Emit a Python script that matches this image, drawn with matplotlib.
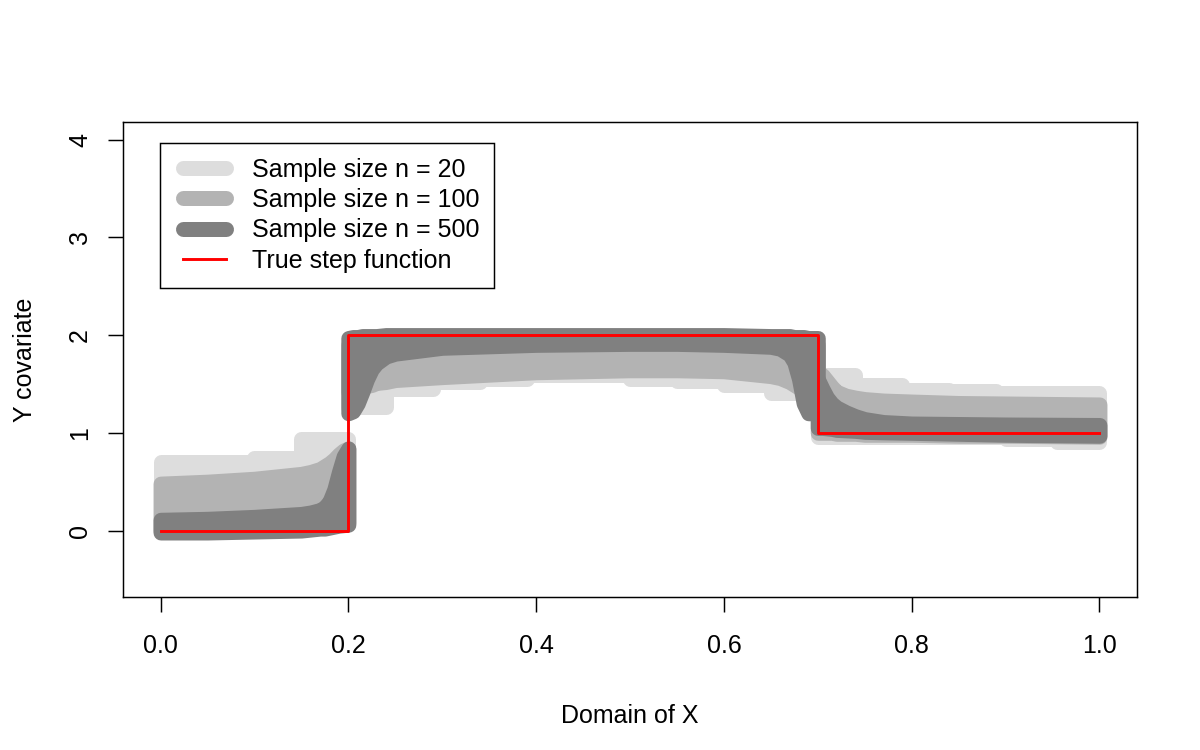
import matplotlib
matplotlib.use('Agg')
import matplotlib.pyplot as plt
from matplotlib.lines import Line2D
from matplotlib.legend_handler import HandlerLine2D

plt.rcParams['font.family'] = ['Liberation Sans', 'DejaVu Sans']

# true step function
true_x = [0.0, 0.2, 0.7, 1.0]
true_y = [0.0, 2.0, 1.0, 1.0]

# smooth pieces (n = 100 and n = 500): x grids of the three pieces
x_left = [0.0, 0.05, 0.10, 0.15, 0.16, 0.17, 0.175, 0.18, 0.185, 0.19, 0.195, 0.2]
x_mid = [0.2, 0.205, 0.21, 0.215, 0.22, 0.225, 0.23, 0.24, 0.25, 0.3, 0.4,
         0.5, 0.55, 0.6, 0.65, 0.66, 0.67, 0.675, 0.68, 0.685, 0.69, 0.7]
x_right = [0.7, 0.705, 0.71, 0.715, 0.72, 0.73, 0.74, 0.75, 0.77, 0.8, 0.85, 0.9, 1.0]

# n = 500
n500_left_lo = [-0.02, -0.02, -0.01, 0.0, 0.01, 0.02, 0.02, 0.03, 0.04, 0.05, 0.055, 0.06]
n500_left_hi = [0.11, 0.12, 0.14, 0.17, 0.185, 0.21, 0.24, 0.3, 0.42, 0.6, 0.76, 0.84]
n500_mid_lo = [1.2, 1.22, 1.3, 1.42, 1.55, 1.65, 1.71, 1.78, 1.81, 1.87, 1.90,
               1.91, 1.91, 1.90, 1.88, 1.86, 1.80, 1.72, 1.55, 1.30, 1.20, 1.20]
n500_mid_hi = [1.97, 1.98, 1.98, 1.99, 1.99, 1.99, 1.99, 2.0, 2.0, 2.0, 2.0,
               2.0, 2.0, 2.0, 1.99, 1.99, 1.99, 1.98, 1.98, 1.98, 1.97, 1.97]
n500_right_lo = [1.05, 1.05, 1.045, 1.04, 1.03, 1.025, 1.02, 1.01, 1.005, 1.0, 0.99, 0.98, 0.97]
n500_right_hi = [1.55, 1.45, 1.36, 1.30, 1.26, 1.21, 1.17, 1.14, 1.11, 1.095, 1.09, 1.085, 1.08]

# n = 100
n100_left_lo = [0.0, 0.0, 0.01, 0.02, 0.02, 0.03, 0.03, 0.04, 0.05, 0.06, 0.07, 0.08]
n100_left_hi = [0.48, 0.50, 0.53, 0.58, 0.60, 0.63, 0.66, 0.69, 0.73, 0.78, 0.82, 0.84]
n100_mid_lo = [1.42, 1.43, 1.45, 1.47, 1.48, 1.49, 1.51, 1.52, 1.54, 1.57, 1.62,
               1.64, 1.64, 1.63, 1.58, 1.56, 1.52, 1.49, 1.46, 1.42, 1.39, 1.36]
n100_mid_hi = [1.9, 1.9, 1.91, 1.91, 1.92, 1.92, 1.93, 1.93, 1.94, 1.95, 1.95,
               1.95, 1.95, 1.95, 1.94, 1.94, 1.93, 1.93, 1.92, 1.92, 1.91, 1.9]
n100_right_lo = [1.0, 1.0, 1.0, 1.0, 0.99, 0.99, 0.99, 0.98, 0.98, 0.98, 0.97, 0.97, 0.96]
n100_right_hi = [1.62, 1.59, 1.53, 1.47, 1.42, 1.38, 1.36, 1.345, 1.33, 1.32, 1.305, 1.30, 1.29]

# n = 20 (step estimates)
n20_left_x = [0.0, 0.1, 0.15, 0.2]
n20_left_lo = [0.05, 0.05, 0.1, 0.1]
n20_left_hi = [0.70, 0.74, 0.94, 0.94]
n20_mid_x = [0.2, 0.24, 0.29, 0.34, 0.39, 0.5, 0.55, 0.6, 0.65, 0.7]
n20_mid_lo = [1.26, 1.45, 1.52, 1.55, 1.59, 1.55, 1.53, 1.49, 1.41, 1.41]
n20_mid_hi = [1.8, 1.85, 1.88, 1.9, 1.9, 1.9, 1.9, 1.88, 1.85, 1.85]
n20_right_x = [0.7, 0.74, 0.79, 0.84, 0.89, 0.9, 0.955, 1.0]
n20_right_lo = [0.96, 0.96, 0.96, 0.96, 0.96, 0.94, 0.91, 0.91]
n20_right_hi = [1.59, 1.49, 1.44, 1.43, 1.41, 1.41, 1.41, 1.41]

legend_labels = ['Sample size n = 20', 'Sample size n = 100',
                 'Sample size n = 500', 'True step function']
x_ticks = [0.0, 0.2, 0.4, 0.6, 0.8, 1.0]
y_ticks = [0, 1, 2, 3, 4]

c20, c100, c500 = '#dddddd', '#b3b3b3', '#808080'
band_lw = 10.8
fs = 18

fig = plt.figure(figsize=(12, 7.5), dpi=100)
ax = fig.add_axes([0.1025, 0.204, 0.845, 0.6333])


def band(x, lo, hi, color, step=None):
    ax.fill_between(x, lo, hi, step=step, facecolor=color, edgecolor=color,
                    linewidth=band_lw, joinstyle='round')


band(n20_left_x, n20_left_lo, n20_left_hi, c20, 'post')
band(n20_mid_x, n20_mid_lo, n20_mid_hi, c20, 'post')
band(n20_right_x, n20_right_lo, n20_right_hi, c20, 'post')

band(x_left, n100_left_lo, n100_left_hi, c100)
band(x_mid, n100_mid_lo, n100_mid_hi, c100)
band(x_right, n100_right_lo, n100_right_hi, c100)

band(x_left, n500_left_lo, n500_left_hi, c500)
band(x_mid, n500_mid_lo, n500_mid_hi, c500)
band(x_right, n500_right_lo, n500_right_hi, c500)

ax.plot(true_x, true_y, drawstyle='steps-post', color='red', lw=2.1)

ax.set_xlim(-0.04, 1.04)
ax.set_ylim(-0.68, 4.18)
ax.set_xticks(x_ticks)
ax.set_xticklabels(['%.1f' % t for t in x_ticks])
ax.set_yticks(y_ticks)
ax.set_yticklabels([str(t) for t in y_ticks], rotation=90, va='center')
ax.tick_params(direction='out', length=10.8, width=1.06, labelsize=fs)
ax.tick_params(axis='x', pad=15.5)
ax.tick_params(axis='y', pad=11.5)
for s in ax.spines.values():
    s.set_linewidth(1.06)

ax.set_xlabel('Domain of X', fontsize=fs)
ax.set_ylabel('Y covariate', fontsize=fs)
ax.xaxis.set_label_coords(0.5, -0.225)
ax.yaxis.set_label_coords(-0.085, 0.5)

handles = [Line2D([], [], color=c20, lw=band_lw, solid_capstyle='round'),
           Line2D([], [], color=c100, lw=band_lw, solid_capstyle='round'),
           Line2D([], [], color=c500, lw=band_lw, solid_capstyle='round'),
           Line2D([], [], color='red', lw=2.1)]
leg = ax.legend(handles, legend_labels, loc='upper left',
                bbox_to_anchor=(0.0365, 0.956), borderaxespad=0,
                fancybox=False, edgecolor='black', framealpha=1,
                fontsize=fs, handlelength=2.32, handletextpad=0.75,
                borderpad=0.6, labelspacing=0.25, numpoints=2,
                handler_map={Line2D: HandlerLine2D(marker_pad=0.3)})
leg.get_frame().set_linewidth(1.06)

fig.savefig('out.png', dpi=100)
